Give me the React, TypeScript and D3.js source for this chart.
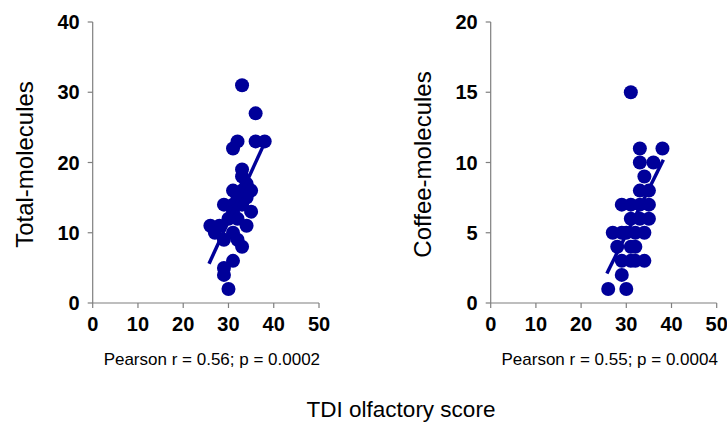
import React from 'react';
import * as d3 from 'd3';

// TDI olfactory score vs number of molecules identified
const totalPoints: [number, number][] = [
  [33, 31], [36, 27], [32, 23], [31, 22], [36, 23], [38, 23], [33, 19], [33, 18],
  [34, 17], [31, 16], [33, 16], [35, 16], [32, 15], [34, 15], [29, 14], [31, 14],
  [33, 14], [35, 13], [31, 13], [32, 12], [26, 11], [28, 11], [34, 11], [30, 12],
  [27, 10], [31, 10], [29, 9], [32, 9], [33, 8], [31, 6], [29, 5], [29, 4], [30, 2],
];

const coffeePoints: [number, number][] = [
  [31, 15], [33, 11], [38, 11], [33, 10], [36, 10], [34, 9], [33, 8], [35, 8],
  [29, 7], [31, 7], [33, 7], [35, 7], [31, 6], [33, 6], [35, 6], [27, 5],
  [29, 5], [30, 5], [32, 5], [34, 5], [28, 4], [31, 4], [32, 4], [29, 3],
  [31, 3], [32, 3], [34, 3], [29, 2], [26, 1], [30, 1],
];

// regression line end points
const totalFit: [number, number][] = [[25.7, 5.6], [37.7, 22.4]];
const coffeeFit: [number, number][] = [[25.7, 2.1], [38.2, 10.2]];

const xTicks = [0, 10, 20, 30, 40, 50];
const totalTicks = [0, 10, 20, 30, 40];
const coffeeTicks = [0, 5, 10, 15, 20];

const FONT = '"Liberation Sans", Arial, sans-serif';
const DOT = '#000099';
const AXIS = '#7f7f7f';

type PanelProps = {
  left: number;
  right: number;
  points: [number, number][];
  fit: [number, number][];
  yMax: number;
  yTicks: number[];
  yTitle: string;
  stats: string;
};

const Panel = ({ left, right, points, fit, yMax, yTicks, yTitle, stats }: PanelProps) => {
  const top = 22;
  const bottom = 303;
  const x = d3.scaleLinear().domain([0, 50]).range([left, right]);
  const y = d3.scaleLinear().domain([0, yMax]).range([bottom, top]);
  const line = d3.line<[number, number]>()
    .x(d => x(d[0]))
    .y(d => y(d[1]));

  return (
    <g>
      {/* axes */}
      <line x1={left} x2={left} y1={top} y2={bottom} stroke={AXIS} strokeWidth={1.2} />
      <line x1={left} x2={right} y1={bottom} y2={bottom} stroke={AXIS} strokeWidth={1.2} />
      {yTicks.map(t => (
        <g key={'y' + t}>
          <line x1={left - 5} x2={left} y1={y(t)} y2={y(t)} stroke={AXIS} strokeWidth={1.2} />
          <text x={left - 13} y={y(t)} dy="0.36em" textAnchor="end"
            fontFamily={FONT} fontWeight="bold" fontSize={20} fill="#000">{t}</text>
        </g>
      ))}
      {xTicks.map(t => (
        <g key={'x' + t}>
          <line x1={x(t)} x2={x(t)} y1={bottom} y2={bottom + 5} stroke={AXIS} strokeWidth={1.2} />
          <text x={x(t)} y={bottom + 28} textAnchor="middle"
            fontFamily={FONT} fontWeight="bold" fontSize={20} fill="#000">{t}</text>
        </g>
      ))}

      {/* points */}
      {points.map((p, i) => (
        <circle key={i} cx={x(p[0])} cy={y(p[1])} r={7} fill={DOT} />
      ))}
      <path d={line(fit) || ''} stroke={DOT} strokeWidth={3.5} fill="none" />

      {/* labels */}
      <text transform={`translate(${left - 60},${(top + bottom) / 2 + 2}) rotate(-90)`}
        textAnchor="middle" fontFamily={FONT} fontSize={24} fill="#000">{yTitle}</text>
      <text x={(left + right) / 2 + 6} y={365} textAnchor="middle"
        fontFamily={FONT} fontSize={17} fill="#000">{stats}</text>
    </g>
  );
};

export default function App() {
  return (
    <svg width={727} height={429} style={{ position: 'absolute', left: 0, top: 0, background: '#fff' }}>
      <rect width={727} height={429} fill="#fff" />
      <Panel left={92.7} right={319} points={totalPoints} fit={totalFit} yMax={40}
        yTicks={totalTicks} yTitle="Total-molecules" stats="Pearson r = 0.56; p = 0.0002" />
      <Panel left={490.7} right={716.7} points={coffeePoints} fit={coffeeFit} yMax={20}
        yTicks={coffeeTicks} yTitle="Coffee-molecules" stats="Pearson r = 0.55; p = 0.0004" />
      <text x={401} y={417} textAnchor="middle" fontFamily={FONT} fontSize={22.5} fill="#000">
        TDI olfactory score
      </text>
    </svg>
  );
}
